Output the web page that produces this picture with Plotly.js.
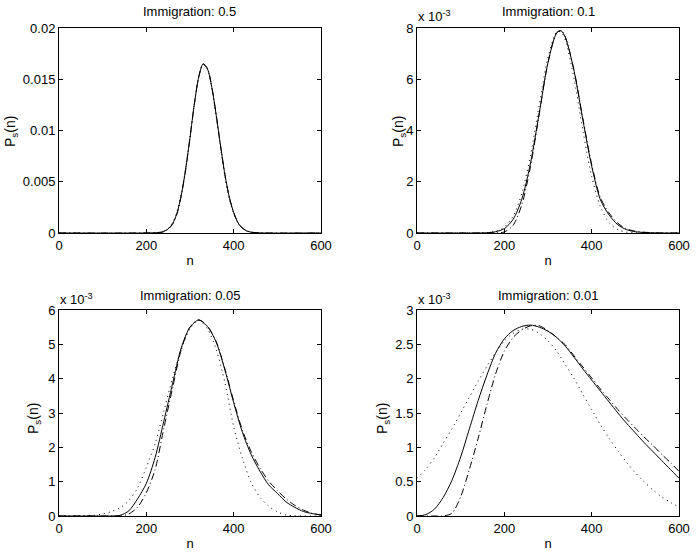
<!DOCTYPE html>
<html>
<head>
<meta charset="utf-8">
<script src="https://cdn.plot.ly/plotly-3.0.1.min.js"></script>
<style>
  html, body { margin: 0; padding: 0; background: #fff; }
</style>
</head>
<body>
<div id="chart" style="width:696px;height:554px"></div>
<script>
// Stationary distributions P_s(n).
// All values are in units of 1e-3 (panel 1 tick labels convert back).

// Immigration: 0.5
var n1     = [0, 200, 230, 240, 250, 260, 270, 280, 290, 300, 310, 320, 330, 340, 350, 360, 370, 380, 390, 400, 410, 420, 430, 440, 460, 600];
var solid1 = [0, 0, 0.05, 0.15, 0.4, 0.9, 1.9, 3.7, 6.2, 9.3, 12.6, 15.2, 16.5, 16.0, 14.2, 11.5, 8.5, 5.7, 3.5, 2.0, 1.0, 0.47, 0.2, 0.08, 0.01, 0];
var dash1  = [0, 0, 0.04, 0.13, 0.37, 0.85, 1.85, 3.65, 6.15, 9.3, 12.6, 15.25, 16.5, 16.05, 14.25, 11.55, 8.5, 5.7, 3.5, 2.0, 1.02, 0.5, 0.22, 0.09, 0.01, 0];
var dot1   = [0, 0, 0.07, 0.2, 0.47, 1.0, 2.05, 3.85, 6.35, 9.4, 12.6, 15.2, 16.45, 16.0, 14.1, 11.3, 8.3, 5.5, 3.35, 1.9, 0.95, 0.45, 0.18, 0.07, 0.01, 0];

// Immigration: 0.1
var n2     = [0, 140, 160, 180, 200, 220, 240, 260, 280, 300, 320, 330, 340, 360, 380, 400, 420, 440, 460, 480, 500, 520, 540, 560, 600];
var solid2 = [0, 0, 0.01, 0.05, 0.17, 0.53, 1.32, 2.73, 4.69, 6.65, 7.81, 7.89, 7.62, 6.30, 4.40, 2.61, 1.30, 0.70, 0.32, 0.13, 0.05, 0.02, 0.01, 0, 0];
var dash2  = [0, 0, 0, 0.01, 0.04, 0.30, 1.10, 2.60, 4.65, 6.65, 7.82, 7.90, 7.63, 6.32, 4.45, 2.68, 1.38, 0.78, 0.38, 0.16, 0.07, 0.03, 0.01, 0, 0];
var dot2   = [0, 0.003, 0.017, 0.068, 0.23, 0.65, 1.54, 3.04, 5.0, 6.86, 7.85, 7.84, 7.51, 5.99, 3.98, 2.21, 1.03, 0.40, 0.13, 0.03, 0.007, 0, 0, 0, 0];

// Immigration: 0.05
var n3     = [0, 20, 40, 60, 80, 100, 120, 140, 160, 180, 200, 220, 240, 260, 280, 300, 320, 340, 360, 380, 400, 420, 440, 460, 480, 500, 520, 540, 560, 580, 600];
var solid3 = [0, 0, 0, 0, 0, 0, 0, 0.02, 0.15, 0.5, 0.95, 1.7, 2.76, 3.85, 4.9, 5.5, 5.71, 5.52, 5.06, 4.25, 3.3, 2.44, 1.79, 1.31, 0.91, 0.66, 0.41, 0.25, 0.13, 0.07, 0.03];
var dash3  = [0, 0, 0, 0, 0, 0, 0, 0, 0.06, 0.26, 0.68, 1.35, 2.55, 3.72, 4.85, 5.5, 5.71, 5.53, 5.08, 4.28, 3.35, 2.5, 1.88, 1.4, 1.02, 0.74, 0.5, 0.31, 0.17, 0.08, 0.03];
var dot3   = [0, 0, 0, 0.005, 0.02, 0.06, 0.13, 0.24, 0.45, 0.82, 1.42, 2.1, 3.05, 4.02, 4.85, 5.45, 5.7, 5.45, 4.85, 3.88, 2.6, 1.68, 0.98, 0.55, 0.29, 0.12, 0.03, 0.01, 0, 0, 0];

// Immigration: 0.01
var n4     = [0, 20, 40, 60, 80, 100, 120, 140, 160, 180, 200, 220, 240, 260, 280, 300, 320, 340, 360, 380, 400, 420, 440, 460, 480, 500, 520, 540, 560, 580, 600];
var solid4 = [0, 0.02, 0.1, 0.27, 0.52, 0.86, 1.27, 1.68, 2.05, 2.37, 2.58, 2.7, 2.76, 2.78, 2.75, 2.69, 2.6, 2.47, 2.31, 2.14, 1.98, 1.82, 1.66, 1.5, 1.35, 1.21, 1.07, 0.94, 0.81, 0.68, 0.55];
var dash4  = [0, 0, 0, 0, 0.04, 0.28, 0.68, 1.13, 1.62, 2.07, 2.4, 2.6, 2.71, 2.77, 2.77, 2.7, 2.6, 2.49, 2.33, 2.17, 2.01, 1.85, 1.7, 1.55, 1.41, 1.28, 1.15, 1.03, 0.9, 0.78, 0.65];
var dot4   = [0.55, 0.68, 0.85, 1.06, 1.27, 1.5, 1.73, 1.96, 2.18, 2.38, 2.55, 2.66, 2.72, 2.72, 2.66, 2.55, 2.4, 2.2, 2.0, 1.77, 1.55, 1.33, 1.13, 0.95, 0.78, 0.63, 0.5, 0.38, 0.28, 0.2, 0.13];

var titles = ['Immigration: 0.5', 'Immigration: 0.1', 'Immigration: 0.05', 'Immigration: 0.01'];

var FONT = 'Liberation Sans, Arial, Helvetica, sans-serif';

// line styles roughly like the MATLAB defaults
var SOLID   = 'solid';
var DASHDOT = '7px,3px,1px,3px';
var DOTTED  = '1px,4px';

function curve(x, y, dash, ax) {
    return {
        x: x, y: y,
        xaxis: 'x' + ax, yaxis: 'y' + ax,
        mode: 'lines', type: 'scatter',
        line: { color: '#000', width: 1, dash: dash, shape: 'spline', smoothing: 0.8 },
        hoverinfo: 'skip'
    };
}

var panels = [
    [n1, solid1, dash1, dot1],
    [n2, solid2, dash2, dot2],
    [n3, solid3, dash3, dot3],
    [n4, solid4, dash4, dot4]
];

var data = [];
panels.forEach(function (p, i) {
    var ax = i === 0 ? '' : String(i + 1);
    data.push(curve(p[0], p[3], DOTTED, ax));
    data.push(curve(p[0], p[2], DASHDOT, ax));
    data.push(curve(p[0], p[1], SOLID, ax));
});

///////////////////////////////////////////
// axes, placed to match the 2x2 grid
function axis(extra) {
    var a = {
        showline: true, mirror: 'ticks', linecolor: '#000', linewidth: 1,
        ticks: 'inside', ticklen: 4, tickcolor: '#000', tickwidth: 1,
        showgrid: false, zeroline: false, fixedrange: true,
        tickfont: { family: FONT, size: 13, color: '#000' }
    };
    for (var k in extra) { a[k] = extra[k]; }
    return a;
}

var W = 696, H = 554;
var colX = [[59 / W, 321 / W], [417 / W, 679 / W]];
var rowY = [[1 - 233 / H, 1 - 28 / H], [1 - 516 / H, 1 - 310 / H]];

function xAxis(i) {
    return axis({
        domain: colX[i % 2], anchor: 'y' + (i === 0 ? '' : i + 1),
        range: [0, 600], tickvals: [0, 200, 400, 600],
        title: { text: 'n', standoff: 4, font: { family: FONT, size: 13, color: '#000' } }
    });
}

var yTicks = [
    { range: [0, 20], tickvals: [0, 5, 10, 15, 20], ticktext: ['0', '0.005', '0.01', '0.015', '0.02'] },
    { range: [0, 8], tickvals: [0, 2, 4, 6, 8] },
    { range: [0, 6], tickvals: [0, 1, 2, 3, 4, 5, 6] },
    { range: [0, 3], tickvals: [0, 0.5, 1, 1.5, 2, 2.5, 3], ticktext: ['0', '0.5', '1', '1.5', '2', '2.5', '3'] }
];

function yAxis(i) {
    var o = { domain: rowY[Math.floor(i / 2)], anchor: 'x' + (i === 0 ? '' : i + 1) };
    for (var k in yTicks[i]) { o[k] = yTicks[i][k]; }
    return axis(o);
}

///////////////////////////////////////////
// titles, y labels (MATLAB lets them overlap the ticks) and exponents
var annotations = [];
var titleY = [1 - 12 / H, 1 - 295 / H];
var ylabX  = [11 / W, 399 / W, 34 / W, 383 / W];
var ylabY  = [1 - 132 / H, 1 - 132 / H, 1 - 419 / H, 1 - 419 / H];

titles.forEach(function (t, i) {
    var c = colX[i % 2];
    annotations.push({
        text: t, xref: 'paper', yref: 'paper',
        x: (c[0] + c[1]) / 2, y: titleY[Math.floor(i / 2)],
        xanchor: 'center', yanchor: 'middle', showarrow: false,
        font: { family: FONT, size: 13, color: '#000' }
    });
    annotations.push({
        text: 'P<sub>s</sub>(n)', xref: 'paper', yref: 'paper',
        x: ylabX[i], y: ylabY[i], textangle: -90,
        xanchor: 'center', yanchor: 'middle', showarrow: false,
        font: { family: FONT, size: 14, color: '#000' }
    });
    if (i > 0) {
        annotations.push({
            text: 'x 10<sup>-3</sup>', xref: 'paper', yref: 'paper',
            x: (c[0] * W - 1) / W, y: i === 1 ? 1 - 16 / H : 1 - 299 / H,
            xanchor: 'left', yanchor: 'middle', showarrow: false,
            font: { family: FONT, size: 13, color: '#000' }
        });
    }
});

var layout = {
    width: W, height: H,
    margin: { t: 0, b: 0, l: 0, r: 0 },
    paper_bgcolor: '#fff', plot_bgcolor: '#fff',
    showlegend: false,
    font: { family: FONT, color: '#000' },
    annotations: annotations
};

for (var i = 0; i < 4; i++) {
    var s = i === 0 ? '' : String(i + 1);
    layout['xaxis' + s] = xAxis(i);
    layout['yaxis' + s] = yAxis(i);
}

Plotly.newPlot('chart', data, layout, { displayModeBar: false, staticPlot: true });
</script>
</body>
</html>
